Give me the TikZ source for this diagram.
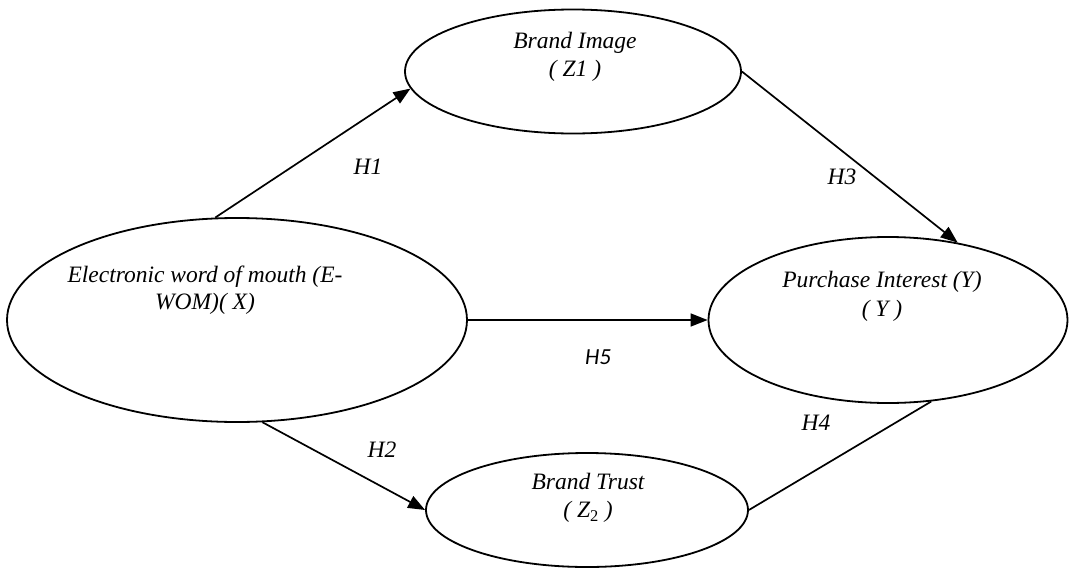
\documentclass[tikz,border=0pt]{standalone}
\usepackage{fontspec}
\setmainfont{Liberation Serif}
\newfontfamily\calfont{Carlito}
\usetikzlibrary{arrows.meta,shapes.geometric}

\begin{document}
\begin{tikzpicture}[x=1pt,y=-1pt,
  var/.style={draw,ellipse,line width=1.8pt,inner sep=0pt},
  vartext/.style={align=center,font=\fontsize{23.5}{27.5}\selectfont\itshape},
  hyp/.style={font=\fontsize{23.5}{27.5}\selectfont\itshape},
  link/.style={line width=1.7pt,-{Triangle[length=17pt,width=13pt]}}]
\useasboundingbox (0,0) rectangle (1069,568);

% variables
\node[var,minimum width=460pt,minimum height=204pt] (EWOM) at (237,320) {};
\node[var,minimum width=336pt,minimum height=124pt] (BI) at (573,71.5) {};
\node[var,minimum width=359pt,minimum height=166pt] (PI) at (888,320) {};
\node[var,minimum width=322pt,minimum height=114pt] (BT) at (587,510) {};

\node[vartext] (EWOMtext) at (205,290) {Electronic word of mouth (E-\\WOM)( X)};
\node[vartext] (BItext) at (575,57) {Brand Image\\( Z1 )};
\node[vartext,font=\fontsize{23.5}{29}\selectfont\itshape] (PItext) at (882,296) {Purchase Interest (Y)\\( Y )};
\node[vartext] (BTtext) at (588,498) {Brand Trust\\( Z\textsubscript{\upshape 2} )};

% hypotheses
\draw[link] (EWOM.102) -- (BI.186);
\draw[link] (BI.east) -- (PI.48);
\draw[link] (EWOM.east) -- (PI.west);
\draw[link] (EWOM.284) -- (BT.west);
\draw[line width=1.7pt] (BT.east) -- (PI.298);

\node[hyp] (H1) at (368,167) {H1};
\node[hyp] (H2) at (382,450) {H2};
\node[hyp] (H3) at (842,177) {H3};
\node[hyp] (H4) at (816,423) {H4};
\node[hyp,font=\fontsize{23}{27}\selectfont\calfont\itshape] (H5) at (598,357) {H5};
\end{tikzpicture}
\end{document}
